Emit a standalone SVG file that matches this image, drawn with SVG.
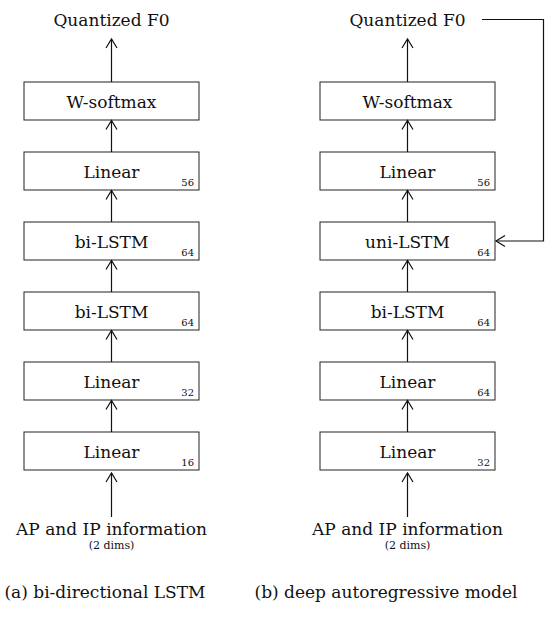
<svg xmlns="http://www.w3.org/2000/svg" width="548" height="621" viewBox="0 0 548 621">
  <style>
    .box { fill: #fff; stroke: #222; stroke-width: 1; }
    .lbl { font-family: "DejaVu Serif", "Liberation Serif", serif; font-size: 17px; fill: #111; text-anchor: middle; }
    .dim { font-family: "DejaVu Serif", "Liberation Serif", serif; font-size: 10px; fill: #111; text-anchor: end; }
    .sub { font-family: "DejaVu Serif", "Liberation Serif", serif; font-size: 11px; fill: #111; text-anchor: middle; }
    .edge { fill: none; stroke: #111; stroke-width: 1.2; marker-end: url(#open); }
  </style>
  <defs>
    <marker id="open" markerUnits="userSpaceOnUse" markerWidth="14" markerHeight="14" viewBox="-10 -7 12 14" refX="0" refY="0" orient="auto">
      <path d="M-9,-5.5 L0,0 L-9,5.5" fill="none" stroke="#111" stroke-width="1.2"/>
    </marker>
  </defs>

  <!-- (a) bi-directional LSTM -->
  <g id="a-output"><text class="lbl" x="111.5" y="26">Quantized F0</text></g>
  <g id="a-softmax"><rect class="box" x="24" y="82" width="175" height="38"/><text class="lbl" x="111.5" y="108">W-softmax</text></g>
  <g id="a-linear56"><rect class="box" x="24" y="152" width="175" height="38"/><text class="lbl" x="111.5" y="178">Linear</text><text class="dim" x="194" y="186">56</text></g>
  <g id="a-bilstm2"><rect class="box" x="24" y="222" width="175" height="38"/><text class="lbl" x="111.5" y="248">bi-LSTM</text><text class="dim" x="194" y="256">64</text></g>
  <g id="a-bilstm1"><rect class="box" x="24" y="292" width="175" height="38"/><text class="lbl" x="111.5" y="318">bi-LSTM</text><text class="dim" x="194" y="326">64</text></g>
  <g id="a-linear32"><rect class="box" x="24" y="362" width="175" height="38"/><text class="lbl" x="111.5" y="388">Linear</text><text class="dim" x="194" y="396">32</text></g>
  <g id="a-linear16"><rect class="box" x="24" y="432" width="175" height="38"/><text class="lbl" x="111.5" y="458">Linear</text><text class="dim" x="194" y="466">16</text></g>
  <g id="a-input"><text class="lbl" x="111.5" y="535">AP and IP information</text><text class="sub" x="111.5" y="549">(2 dims)</text></g>
  <text class="lbl" x="105" y="598">(a) bi-directional LSTM</text>

  <!-- (b) deep autoregressive model -->
  <g id="b-output"><text class="lbl" x="407.5" y="26">Quantized F0</text></g>
  <g id="b-softmax"><rect class="box" x="320" y="82" width="175" height="38"/><text class="lbl" x="407.5" y="108">W-softmax</text></g>
  <g id="b-linear56"><rect class="box" x="320" y="152" width="175" height="38"/><text class="lbl" x="407.5" y="178">Linear</text><text class="dim" x="490" y="186">56</text></g>
  <g id="b-unilstm"><rect class="box" x="320" y="222" width="175" height="38"/><text class="lbl" x="407.5" y="248">uni-LSTM</text><text class="dim" x="490" y="256">64</text></g>
  <g id="b-bilstm"><rect class="box" x="320" y="292" width="175" height="38"/><text class="lbl" x="407.5" y="318">bi-LSTM</text><text class="dim" x="490" y="326">64</text></g>
  <g id="b-linear64"><rect class="box" x="320" y="362" width="175" height="38"/><text class="lbl" x="407.5" y="388">Linear</text><text class="dim" x="490" y="396">64</text></g>
  <g id="b-linear32"><rect class="box" x="320" y="432" width="175" height="38"/><text class="lbl" x="407.5" y="458">Linear</text><text class="dim" x="490" y="466">32</text></g>
  <g id="b-input"><text class="lbl" x="407.5" y="535">AP and IP information</text><text class="sub" x="407.5" y="549">(2 dims)</text></g>
  <text class="lbl" x="386" y="598">(b) deep autoregressive model</text>

  <g id="connectors">
    <line class="edge" x1="111.5" y1="517" x2="111.5" y2="473"/>
    <line class="edge" x1="111.5" y1="432" x2="111.5" y2="400.5"/>
    <line class="edge" x1="111.5" y1="362" x2="111.5" y2="330.5"/>
    <line class="edge" x1="111.5" y1="292" x2="111.5" y2="260.5"/>
    <line class="edge" x1="111.5" y1="222" x2="111.5" y2="190.5"/>
    <line class="edge" x1="111.5" y1="152" x2="111.5" y2="120.5"/>
    <line class="edge" x1="111.5" y1="82" x2="111.5" y2="39"/>

    <line class="edge" x1="407.5" y1="517" x2="407.5" y2="473"/>
    <line class="edge" x1="407.5" y1="432" x2="407.5" y2="400.5"/>
    <line class="edge" x1="407.5" y1="362" x2="407.5" y2="330.5"/>
    <line class="edge" x1="407.5" y1="292" x2="407.5" y2="260.5"/>
    <line class="edge" x1="407.5" y1="222" x2="407.5" y2="190.5"/>
    <line class="edge" x1="407.5" y1="152" x2="407.5" y2="120.5"/>
    <line class="edge" x1="407.5" y1="82" x2="407.5" y2="39"/>

    <polyline class="edge" points="482,19.5 543.5,19.5 543.5,241 496,241"/>
  </g>
</svg>
